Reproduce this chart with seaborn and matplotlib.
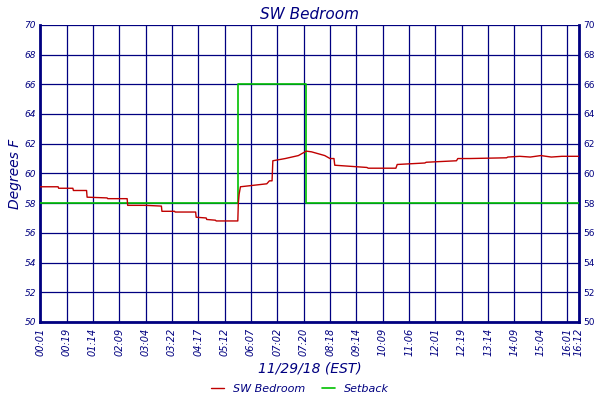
import numpy as np
import pandas as pd
import matplotlib
matplotlib.use("Agg")
import matplotlib.pyplot as plt
import seaborn as sns

# tick labels along the x axis (positions are sample index units)
tick_labels = ["00:01", "00:19", "01:14", "02:09", "03:04", "03:22", "04:17", "05:12",
               "06:07", "07:02", "07:20", "08:18", "09:14", "10:09", "11:06", "12:01",
               "12:19", "13:14", "14:09", "15:04", "16:01", "16:12"]
tick_pos = list(range(21)) + [20.45]

# SW Bedroom temperature
temp_x = [0.0, 0.68, 0.70, 1.24, 1.26, 1.76, 1.78, 2.54, 2.56, 3.3, 3.32, 4.0, 4.6, 4.62,
          5.1, 5.12, 5.9, 5.92, 6.3, 6.32, 6.65, 6.68, 7.5, 7.52, 7.55, 7.6, 8.1, 8.6, 8.7,
          8.8, 8.83, 9.3, 9.8, 10.1, 10.3, 10.8, 11.0, 11.15, 11.18, 12.4, 12.45, 13.5,
          13.55, 14.6, 14.65, 15.8, 15.85, 16.3, 17.7, 17.75, 18.2, 18.6, 19.0, 19.4, 19.8,
          20.45]
temp_y = [59.1, 59.1, 59.0, 59.0, 58.85, 58.85, 58.4, 58.35, 58.3, 58.3, 57.85, 57.85,
          57.8, 57.45, 57.45, 57.4, 57.4, 57.05, 57.0, 56.9, 56.85, 56.8, 56.8, 58.0, 58.6,
          59.1, 59.2, 59.3, 59.5, 59.5, 60.85, 61.0, 61.2, 61.5, 61.45, 61.2, 61.0, 61.0,
          60.55, 60.4, 60.35, 60.35, 60.6, 60.7, 60.75, 60.85, 61.0, 61.0, 61.05, 61.1,
          61.15, 61.1, 61.2, 61.1, 61.15, 61.15]

# Setback schedule
set_x = [0.0, 7.52, 7.52, 10.0, 10.08, 10.08, 20.45]
set_y = [58, 58, 66, 66, 66, 58, 58]

navy = "#000080"
sns.set_style("white")
plt.rcParams["font.family"] = ["DejaVu Sans"]

fig, ax = plt.subplots(figsize=(6, 4), dpi=100)
fig.subplots_adjust(left=0.067, right=0.965, top=0.938, bottom=0.195)

df_t = pd.DataFrame({"x": temp_x, "y": temp_y})
df_s = pd.DataFrame({"x": set_x, "y": set_y})
sns.lineplot(data=df_s, x="x", y="y", ax=ax, color="#00c000", lw=1.2, sort=False,
             estimator=None, label="Setback", zorder=3)
sns.lineplot(data=df_t, x="x", y="y", ax=ax, color="#c00000", lw=1.0, sort=False,
             estimator=None, label="SW Bedroom", zorder=4)

ax.set_xlim(0, 20.45)
ax.set_ylim(50, 70)
ax.set_yticks(range(50, 71, 2))
ax.set_xticks(tick_pos)
ax.set_xticklabels(tick_labels, rotation=90, fontsize=7, color=navy, style="italic")
for t in ax.get_yticklabels():
    t.set_fontsize(7); t.set_color(navy); t.set_style("italic")
ax.tick_params(axis="y", labelright=True, length=0, pad=3, labelsize=6.5, labelcolor=navy)
ax.tick_params(axis="x", length=0, pad=4)
ax.grid(True, color=navy, lw=0.9)
for s in ["left", "right", "bottom"]:
    ax.spines[s].set_color(navy); ax.spines[s].set_linewidth(2)
ax.spines["top"].set_visible(False)

ax.set_title("SW Bedroom", color=navy, fontsize=11, style="italic", pad=4)
ax.set_ylabel("Degrees F", color=navy, fontsize=10, style="italic", labelpad=2)
ax.set_xlabel("11/29/18 (EST)", color=navy, fontsize=10, style="italic", labelpad=4)

h, l = ax.get_legend_handles_labels()
ax.get_legend().remove()
leg = fig.legend(h[::-1], l[::-1], loc="lower center", bbox_to_anchor=(0.5, -0.01),
                 ncol=2, frameon=False, fontsize=8, handlelength=1.2, columnspacing=1.5)
for t in leg.get_texts():
    t.set_color(navy); t.set_style("italic")

fig.savefig("out.png", dpi=100)
